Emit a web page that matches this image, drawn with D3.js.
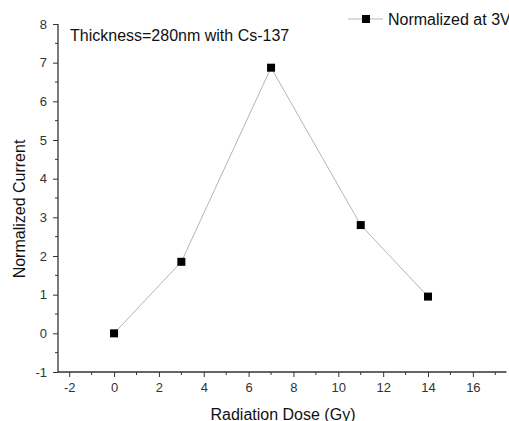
<!DOCTYPE html>
<html><head><meta charset="utf-8">
<script src="https://cdn.jsdelivr.net/npm/d3@7"></script>
<style>body{margin:0;background:#fff;} svg{display:block;font-family:"Liberation Sans",Arial,sans-serif;}</style>
</head><body>
<svg id="c" width="509" height="421"></svg>
<script>
const doses = [0, 3, 7, 11, 14];
const currents = [0, 1.85, 6.87, 2.8, 0.95];
const xTicks = [-2, 0, 2, 4, 6, 8, 10, 12, 14, 16];
const yTicks = [-1, 0, 1, 2, 3, 4, 5, 6, 7, 8];
const seriesName = "Normalized at 3V";
const annotation = "Thickness=280nm with Cs-137";
const xTitle = "Radiation Dose (Gy)";
const yTitle = "Normalized Current";

const svg = d3.select("#c");
const x = d3.scaleLinear().domain([-2.5, 17.5]).range([58, 506.5]);
const y = d3.scaleLinear().domain([-1, 8]).range([372, 24]);
const axisColor = "#333";

const xMinor = d3.range(-2, 17.5, 1).filter(v => !xTicks.includes(v));
const yMinor = d3.range(-0.5, 8, 1);

const gx = svg.append("g").attr("transform", "translate(0,372)")
  .call(d3.axisBottom(x).tickValues(xTicks).tickSize(5).tickPadding(6).tickFormat(d => String(d)));
gx.append("g").selectAll("line").data(xMinor).join("line")
  .attr("x1", d => x(d)).attr("x2", d => x(d)).attr("y1", 0).attr("y2", 3).attr("stroke", axisColor);
const gy = svg.append("g").attr("transform", "translate(58,0)")
  .call(d3.axisLeft(y).tickValues(yTicks).tickSize(5).tickPadding(6).tickFormat(d => String(d)));
gy.append("g").selectAll("line").data(yMinor).join("line")
  .attr("y1", d => y(d)).attr("y2", d => y(d)).attr("x1", 0).attr("x2", -3).attr("stroke", axisColor);

[gx, gy].forEach(g => {
  g.select(".domain").attr("stroke", axisColor).attr("stroke-width", 1.3);
  g.selectAll(".tick line").attr("stroke", axisColor);
  g.selectAll("text").attr("font-size", 13).attr("fill", "#333")
    .attr("font-family", "'Liberation Sans',Arial,sans-serif");
});
gx.select(".domain").attr("d", "M58,0H506.5");
gy.select(".domain").attr("d", "M0,372V24");

const pts = doses.map((d, i) => [d, currents[i]]);
svg.append("path").datum(pts)
  .attr("fill", "none").attr("stroke", "#b5b5b5").attr("stroke-width", 1)
  .attr("d", d3.line().x(d => x(d[0])).y(d => y(d[1])));
svg.append("g").selectAll("rect").data(pts).join("rect")
  .attr("x", d => x(d[0]) - 4).attr("y", d => y(d[1]) - 4)
  .attr("width", 8).attr("height", 8).attr("fill", "#000");

svg.append("text").attr("x", 70).attr("y", 41).attr("font-size", 16).attr("fill", "#111").text(annotation);

const lg = svg.append("g");
lg.append("line").attr("x1", 348).attr("x2", 383).attr("y1", 19).attr("y2", 19).attr("stroke", "#b5b5b5");
lg.append("rect").attr("x", 362).attr("y", 15).attr("width", 8).attr("height", 8).attr("fill", "#000");
lg.append("text").attr("x", 388).attr("y", 25).attr("font-size", 16).attr("fill", "#111").text(seriesName);

svg.append("text").attr("x", 283).attr("y", 420).attr("text-anchor", "middle").attr("font-size", 16).attr("fill", "#111").text(xTitle);
svg.append("text").attr("transform", "translate(25,209) rotate(-90)").attr("text-anchor", "middle").attr("font-size", 16).attr("fill", "#111").text(yTitle);
</script>
</body></html>
